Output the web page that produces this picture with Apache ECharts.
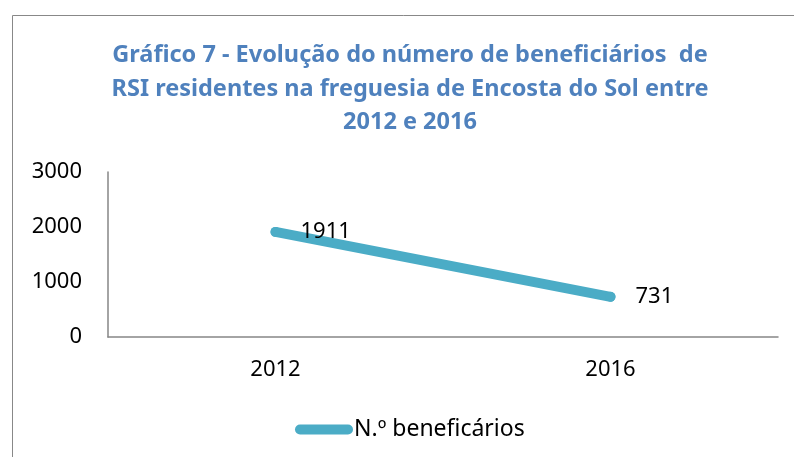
<!DOCTYPE html>
<html>
<head>
<meta charset="utf-8">
<script src="https://cdn.jsdelivr.net/npm/echarts@6/dist/echarts.min.js"></script>
<style>
    html, body { margin: 0; padding: 0; background: #fff; }
    #chart { width: 794px; height: 457px; }
</style>
</head>
<body>
<div id="chart"></div>
<script>
// dados do gráfico
const anos = ["2012", "2016"];
const beneficiarios = [1911, 731];
const serieNome = "N.º beneficários";
const tituloTexto = "Gráfico 7 - Evolução do número de beneficiários  de\nRSI residentes na freguesia de Encosta do Sol entre\n2012 e 2016";

const chart = echarts.init(document.getElementById("chart"));

chart.setOption({
    backgroundColor: "#fff",
    animation: false,
    title: {
        text: tituloTexto,
        left: 410,
        top: 39,
        padding: 0,
        textAlign: "center",
        textStyle: {
            fontFamily: "Noto Sans",
            fontSize: 23.5,
            fontWeight: "bold",
            color: "#4F81BD",
            lineHeight: 33.5,
        },
    },
    graphic: [
        {
            // moldura do gráfico
            type: "rect",
            silent: true,
            shape: { x: 12.5, y: 15.5, width: 800, height: 460 },
            style: { fill: "none", stroke: "#888", lineWidth: 1 },
        },
    ],
    legend: {
        left: 290,
        top: 413,
        itemWidth: 58,
        itemHeight: 10,
        itemGap: 4,
        icon: "path://M5,0 L53,0 A5,5 0 0 1 53,10 L5,10 A5,5 0 0 1 5,0 Z",
        textStyle: {
            fontFamily: "Noto Sans",
            fontSize: 23,
            color: "#000",
            padding: [0, 0, 0, -4],
        },
        data: [serieNome],
    },
    grid: {
        left: 108,
        right: 16,
        top: 172,
        bottom: 120,
    },
    xAxis: {
        type: "category",
        data: anos,
        boundaryGap: true,
        axisLine: { lineStyle: { color: "#868686", width: 1.5 } },
        axisTick: { show: false },
        axisLabel: {
            margin: 22,
            fontFamily: "Noto Sans",
            fontSize: 22,
            color: "#000",
        },
    },
    yAxis: {
        type: "value",
        min: 0,
        max: 3000,
        interval: 1000,
        axisLine: { show: true, lineStyle: { color: "#868686", width: 1.5 } },
        axisTick: { show: false },
        splitLine: { show: false },
        axisLabel: {
            margin: 26,
            fontFamily: "Noto Sans",
            fontSize: 22,
            color: "#000",
            formatter: (v) => String(v),
        },
    },
    series: [
        {
            name: serieNome,
            type: "line",
            data: beneficiarios,
            symbol: "circle",
            symbolSize: 10,
            itemStyle: { color: "#4BACC6" },
            lineStyle: { color: "#4BACC6", width: 10, cap: "round" },
            label: {
                show: true,
                position: "right",
                distance: 20,
                fontFamily: "Noto Sans",
                fontSize: 22,
                color: "#000",
            },
        },
    ],
});
</script>
</body>
</html>
